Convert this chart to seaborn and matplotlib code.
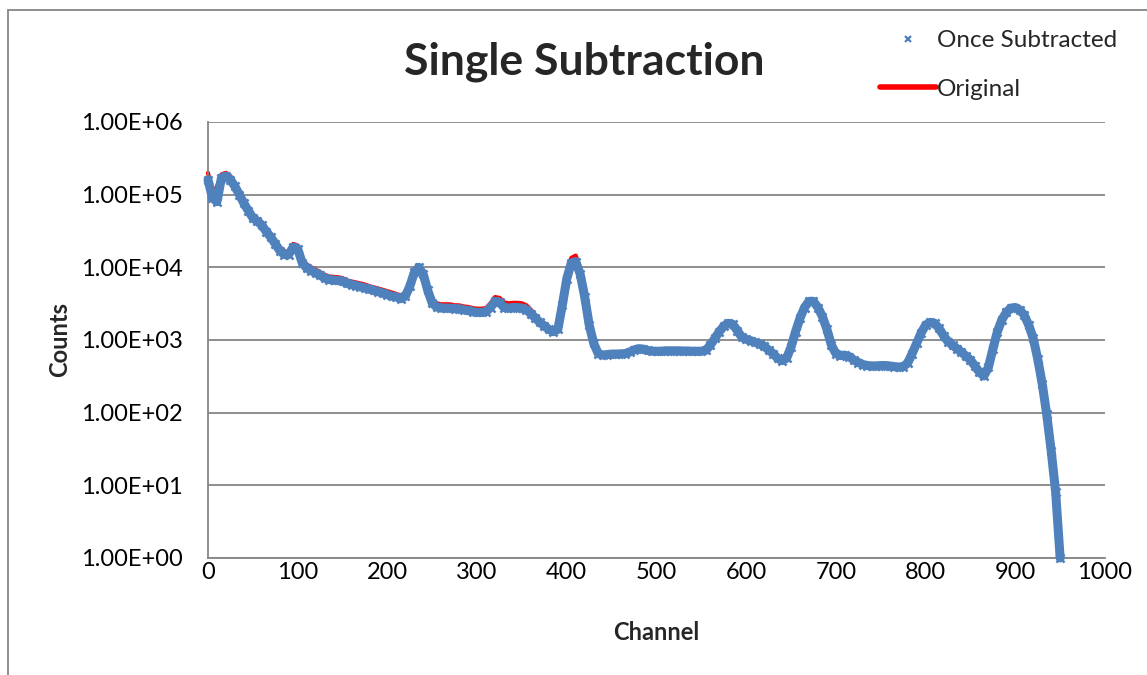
import matplotlib
matplotlib.use("Agg")
import matplotlib.pyplot as plt
import matplotlib.ticker as mticker
from matplotlib.lines import Line2D
from matplotlib.patches import Rectangle
import seaborn as sns
import pandas as pd

# channels read every 5 from the picture
channels = list(range(0, 955, 5))

once_subtracted = [
    1.6e5, 9.0e4, 8.0e4, 1.7e5, 1.8e5, 1.6e5, 1.3e5, 1.0e5, 7.6e4, 6.0e4,
    4.8e4, 4.3e4, 3.8e4, 3.1e4, 2.6e4, 2.1e4, 1.7e4, 1.5e4, 1.5e4, 1.9e4,
    1.8e4, 1.15e4, 9.8e3, 9.0e3, 8.4e3, 7.8e3, 7.1e3, 6.8e3, 6.7e3, 6.6e3,
    6.4e3, 6.0e3, 5.8e3, 5.6e3, 5.4e3, 5.2e3, 5.0e3, 4.8e3, 4.6e3, 4.4e3,
    4.2e3, 4.0e3, 3.9e3, 3.7e3, 4.0e3, 5.5e3, 8.5e3, 1.0e4, 8.0e3, 4.8e3,
    3.2e3, 2.85e3, 2.75e3, 2.75e3, 2.75e3, 2.7e3, 2.7e3, 2.6e3, 2.55e3, 2.45e3,
    2.4e3, 2.4e3, 2.45e3, 2.8e3, 3.4e3, 3.3e3, 2.8e3, 2.75e3, 2.8e3, 2.8e3,
    2.75e3, 2.6e3, 2.3e3, 2.0e3, 1.75e3, 1.55e3, 1.4e3, 1.3e3, 1.4e3, 3.0e3,
    7.0e3, 1.15e4, 1.2e4, 8.0e3, 3.9e3, 1.6e3, 900, 650, 620, 630,
    640, 640, 645, 650, 680, 730, 760, 750, 720, 700,
    700, 700, 710, 710, 710, 710, 705, 705, 700, 700,
    700, 720, 850, 1050, 1300, 1550, 1700, 1650, 1350, 1100,
    1020, 980, 930, 880, 820, 730, 650, 560, 520, 560,
    800, 1300, 2000, 2800, 3400, 3400, 2800, 2100, 1400, 850,
    650, 610, 620, 590, 530, 490, 460, 445, 440, 440,
    445, 445, 440, 430, 425, 430, 480, 650, 900, 1250,
    1600, 1750, 1700, 1450, 1150, 950, 850, 760, 680, 600,
    530, 440, 360, 320, 420, 750, 1300, 1900, 2400, 2750,
    2800, 2600, 2200, 1600, 1050, 550, 250, 95, 30, 8,
    1,
]

original = [
    2.0e5, 1.0e5, 1.3e5, 1.9e5, 2.0e5, 1.8e5, 1.45e5, 1.1e5, 8.4e4, 6.6e4,
    5.3e4, 4.7e4, 4.2e4, 3.4e4, 2.9e4, 2.3e4, 1.9e4, 1.65e4, 1.65e4, 2.1e4,
    2.0e4, 1.3e4, 1.1e4, 1.0e4, 9.3e3, 8.6e3, 7.9e3, 7.5e3, 7.4e3, 7.3e3,
    7.1e3, 6.6e3, 6.4e3, 6.2e3, 6.0e3, 5.8e3, 5.5e3, 5.3e3, 5.1e3, 4.9e3,
    4.7e3, 4.5e3, 4.3e3, 4.1e3, 4.4e3, 6.0e3, 9.0e3, 1.07e4, 8.6e3, 5.3e3,
    3.6e3, 3.2e3, 3.1e3, 3.1e3, 3.1e3, 3.0e3, 3.0e3, 2.9e3, 2.85e3, 2.75e3,
    2.7e3, 2.7e3, 2.75e3, 3.2e3, 3.9e3, 3.8e3, 3.3e3, 3.2e3, 3.25e3, 3.25e3,
    3.2e3, 3.0e3, 2.6e3, 2.2e3, 1.9e3, 1.7e3, 1.5e3, 1.4e3, 1.5e3, 3.4e3,
    8.0e3, 1.35e4, 1.45e4, 9.5e3, 4.4e3, 1.8e3, 950, 670, 630, 640,
    650, 650, 655, 660, 690, 740, 770, 760, 730, 710,
    710, 710, 720, 720, 720, 720, 715, 715, 710, 710,
    710, 730, 860, 1060, 1310, 1560, 1710, 1660, 1360, 1110,
    1030, 990, 940, 890, 830, 740, 660, 570, 530, 570,
    810, 1310, 2010, 2810, 3410, 3410, 2810, 2110, 1410, 860,
    660, 620, 630, 600, 540, 500, 470, 450, 445, 445,
    450, 450, 445, 435, 430, 435, 485, 655, 905, 1255,
    1605, 1755, 1705, 1455, 1155, 955, 855, 765, 685, 605,
    535, 445, 365, 325, 425, 755, 1305, 1905, 2405, 2755,
    2805, 2605, 2205, 1605, 1055, 555, 255, 96, 30, 8,
    1,
]

df = pd.DataFrame({"Channel": channels,
                   "Once Subtracted": once_subtracted,
                   "Original": original})

sns.set_style("white")
plt.rcParams["font.family"] = ["Lato", "DejaVu Sans"]

blue = "#4F81BD"
red = "#FF0000"
grid_col = "#868686"

fig = plt.figure(figsize=(11.47, 6.75), dpi=100)
ax = fig.add_axes([208 / 1147, 1 - 558 / 675, (1105 - 208) / 1147, (558 - 122) / 675])

sns.lineplot(data=df, x="Channel", y="Original", color=red, linewidth=3, ax=ax, clip_on=False)
# dense markers in the original form a solid band
sns.lineplot(data=df, x="Channel", y="Once Subtracted", color=blue, linewidth=6.5,
             ax=ax, zorder=3, clip_on=False)
sns.scatterplot(data=df, x="Channel", y="Once Subtracted", marker="x", color=blue,
                s=34, linewidth=1.8, ax=ax, zorder=4, clip_on=False)

ax.set_yscale("log")
ax.set_ylim(1, 1e6)
ax.set_xlim(0, 1000)
ax.set_xticks(range(0, 1001, 100))
ax.yaxis.set_major_locator(mticker.LogLocator(base=10, numticks=10))
ax.yaxis.set_minor_locator(mticker.NullLocator())
ax.yaxis.set_major_formatter(mticker.FuncFormatter(lambda v, p: f"{v:.2E}"))

ax.grid(axis="y", color=grid_col, linewidth=1.3)
ax.set_axisbelow(True)
for side in ["top", "right"]:
    ax.spines[side].set_visible(False)
for side in ["left", "bottom"]:
    ax.spines[side].set_color(grid_col)
    ax.spines[side].set_linewidth(1.3)
ax.tick_params(axis="both", direction="out", length=6, width=1.3, color=grid_col,
               labelsize=17, labelcolor="black")
ax.tick_params(axis="y", pad=12)
ax.tick_params(axis="x", pad=-3)

ax.set_xlabel("")
ax.set_ylabel("")
fig.text(656 / 1147, 1 - 633 / 675, "Channel", fontsize=17, fontweight="bold",
         ha="center", va="center")
fig.text(60 / 1147, 1 - 340 / 675, "Counts", fontsize=17, fontweight="bold",
         ha="center", va="center", rotation=90)

fig.text(584 / 1147, 1 - 62 / 675, "Single Subtraction", fontsize=32, fontweight="bold",
         ha="center", va="center")

handles = [Line2D([], [], linestyle="none", marker="x", color=blue, markersize=5,
                  markeredgewidth=1.6),
           Line2D([], [], color=red, linewidth=4)]
fig.legend(handles, ["Once Subtracted", "Original"], loc="upper left",
           bbox_to_anchor=(880 / 1147, 1 - 30 / 675), frameon=False, fontsize=17.5,
           handlelength=2.3, handletextpad=0.05, labelspacing=1.15,
           borderpad=0, borderaxespad=0)

fig.add_artist(Rectangle((8 / 1147, -0.1), 1.2, 1.1 - 10 / 675, transform=fig.transFigure,
                         fill=False, edgecolor=grid_col, linewidth=1.3))

fig.savefig("out.png", dpi=100)
